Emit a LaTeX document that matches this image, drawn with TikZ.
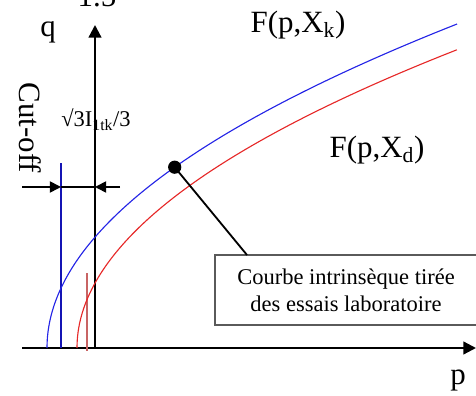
\documentclass[tikz,border=0pt]{standalone}
\usepackage{fontspec}
\setmainfont{Liberation Serif}
\usetikzlibrary{arrows.meta, positioning}
\definecolor{cblue}{HTML}{2424E6}
\definecolor{cred}{HTML}{E62828}
\definecolor{cdblue}{HTML}{1414B4}
\definecolor{cbrown}{HTML}{C86464}
\definecolor{cgrey}{HTML}{5A5A5A}
\tikzset{
  every picture/.style={line width=0.8pt},
  axis/.style={-{Triangle[length=9pt, width=9pt]}, line width=1.6pt},
  dim/.style={-{Triangle[length=8pt, width=8pt]}, line width=1.2pt},
  big/.style={font=\fontsize{22}{26}\selectfont, inner sep=0pt},
  note/.style={draw=cgrey, line width=1pt, align=center, font=\fontsize{16}{19.5}\selectfont, minimum width=6.55cm, minimum height=1.75cm},
}

\begin{document}
\begin{tikzpicture}[x=0.025cm, y=0.025cm]
  \useasboundingbox (0,0) rectangle (476,396);
  % axes
  \coordinate (O) at (22,48);
  \coordinate (xend) at (476,48);
  \coordinate (ybot) at (95,48);
  \coordinate (ytop) at (95,371);
  \draw[axis] (O) -- (xend);
  \draw[axis] (ybot) -- (ytop);
  \node[big, anchor=base] (qlab) at (48,359) {q};
  \node[big, anchor=base] (plab) at (458,11) {p};
  \node[big, anchor=base] (top) at (97,389) {1.5};
  % cut-off lines
  \coordinate (cb0) at (61,48);
  \coordinate (cb1) at (61,233);
  \coordinate (cr0) at (87,45);
  \coordinate (cr1) at (87,123);
  \draw[cdblue, line width=1pt] (cb0) -- (cb1);
  \draw[cbrown, line width=1.2pt] (cr0) -- (cr1);
  \coordinate (dl) at (22,209);
  \coordinate (dm1) at (61,209);
  \coordinate (dm2) at (95,209);
  \coordinate (dr) at (120,209);
  \draw[dim] (dl) -- (dm1);
  \draw[line width=1.2pt] (dm1) -- (dm2);
  \draw[dim] (dr) -- (dm2);
  \node[big, rotate=-90] (cut) at (30,268) {Cut-off};
  \node[font=\fontsize{16}{19}\selectfont, inner sep=0pt] (root) at (96,276) {√3I\textsubscript{1tk}/3};
  % curves
  \draw[cblue] plot[domain=0:20.25, samples=60, smooth] ({47+\x*\x}, {48+16*\x});
  \draw[cred] plot[domain=0:19.49, samples=60, smooth] ({77+\x*\x}, {48+15.3*\x});
  \node[big] (Fk) at (298,371) {F(p,X\textsubscript{k})};
  \node[big] (Fd) at (377,246) {F(p,X\textsubscript{d})};
  % intrinsic curve note
  \node[circle, fill, inner sep=0pt, minimum size=0.33cm] (dot) at (174.7,228.8) {};
  \node[note] (note) at (346,106) {Courbe intrinsèque tirée\\des essais laboratoire};
  \coordinate (tap) at (247,141);
  \draw[line width=1.3pt] (dot.center) -- (tap);
\end{tikzpicture}
\end{document}
